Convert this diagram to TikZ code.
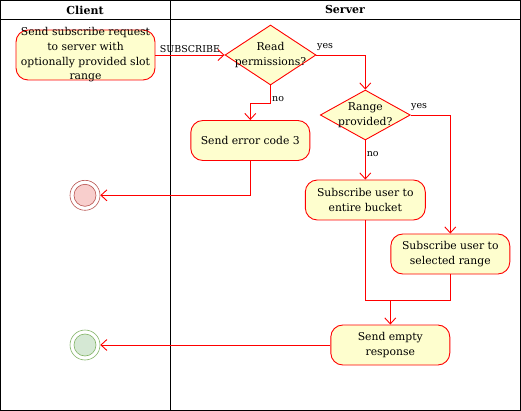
\documentclass[tikz,border=0pt]{standalone}
\usepackage{fontspec}
\setmainfont{DejaVu Serif}
\usetikzlibrary{shapes.geometric,arrows.meta}
\definecolor{actfill}{HTML}{FEFECE}
\definecolor{actline}{HTML}{FF0000}
\definecolor{redfill}{HTML}{F8CECC}
\definecolor{redline}{HTML}{B85450}
\definecolor{grnfill}{HTML}{D5E8D4}
\definecolor{grnline}{HTML}{82B366}
\tikzset{
  act/.style={draw=actline, fill=actfill, rounded corners=12pt, line width=0.9pt, inner sep=0pt},
  dia/.style={draw=actline, fill=actfill, diamond, line width=0.9pt, inner sep=0pt, minimum width=91pt, minimum height=60pt},
  txt/.style={align=center, font=\fontsize{10.8}{14.6}\selectfont, inner sep=0pt},
  lbl/.style={font=\fontsize{9.5}{11}\selectfont, inner sep=1pt},
  arr/.style={draw=actline, line width=0.9pt, -{Straight Barb[length=6pt,width=11pt,line width=0.9pt]}},
  lin/.style={draw=actline, line width=0.9pt},
  hdr/.style={font=\fontsize{11}{12}\selectfont\bfseries},
}
\begin{document}
\begin{tikzpicture}[x=1pt,y=-1pt]
\useasboundingbox (0,0) rectangle (521,411);
% swimlanes
\draw[line width=1.2pt] (0.6,0.6) rectangle (520.4,410.4);
\draw[line width=1pt] (0.6,20) -- (520.4,20);
\draw[line width=1pt] (170,0.6) -- (170,410.4);
\node[hdr] (hc) at (85,10) {Client};
\node[hdr] (hs) at (345,10) {Server};
% client request
\node[act, minimum width=139pt, minimum height=50pt] (req) at (85.5,55) {};
\node[txt] (reqt) at (req) {Send subscribe request\\to server with\\optionally provided slot\\range};
% read permissions
\node[dia] (rp) at (270.5,55) {};
\node[txt] (rpt) at (rp) {Read\\permissions?};
% range provided
\node[dia, minimum width=90pt, minimum height=50pt] (rg) at (365.3,115) {};
\node[txt] (rgt) at (rg) {Range\\provided?};
% actions
\node[act, minimum width=119pt, minimum height=40pt] (err) at (250.3,140.5) {};
\node[txt] (errt) at (err) {Send error code 3};
\node[act, minimum width=120pt, minimum height=40pt] (ent) at (365.3,200) {};
\node[txt] (entt) at (ent) {Subscribe user to\\entire bucket};
\node[act, minimum width=119pt, minimum height=40pt] (sel) at (450.3,254) {};
\node[txt] (selt) at (sel) {Subscribe user to\\selected range};
\node[act, minimum width=119pt, minimum height=40pt] (emp) at (390.3,345) {};
\node[txt] (empt) at (emp) {Send empty\\response};
% final states
\node[circle, draw=redline, fill=white, line width=0.6pt, minimum size=30pt, inner sep=0pt] (endr) at (85,195.3) {};
\node[circle, draw=redline, fill=redfill, line width=0.6pt, minimum size=22pt, inner sep=0pt] (endri) at (endr) {};
\node[circle, draw=grnline, fill=white, line width=0.6pt, minimum size=30pt, inner sep=0pt] (endg) at (85,345) {};
\node[circle, draw=grnline, fill=grnfill, line width=0.6pt, minimum size=22pt, inner sep=0pt] (endgi) at (endg) {};
% connectors
\draw[arr] (req.east) -- node[lbl, above, pos=0.5, yshift=1pt] {SUBSCRIBE} (rp.west);
\draw[arr] (rp.east) -| (rg.north);
\node[lbl, anchor=south west] (yes1) at (316,52) {yes};
\draw[arr] (rp.south) -- ++(0,18) -| (err.north);
\node[lbl, anchor=west] (no1) at (271,99) {no};
\draw[arr] (rg.east) -| (sel.north);
\node[lbl, anchor=south west] (yes2) at (410,112) {yes};
\draw[arr] (rg.south) -- node[lbl, right, pos=0.35] {no} (ent.north);
\draw[arr] (err.south) |- (endr.east);
\coordinate (mL) at (365.3,300);
\coordinate (mR) at (450.3,300);
\coordinate (mC) at (390.3,300);
\draw[lin] (ent.south) -- (mL) -- (mR) -- (sel.south);
\draw[arr] (mC) -- (emp.north);
\draw[arr] (emp.west) -- (endg.east);
\end{tikzpicture}
\end{document}
